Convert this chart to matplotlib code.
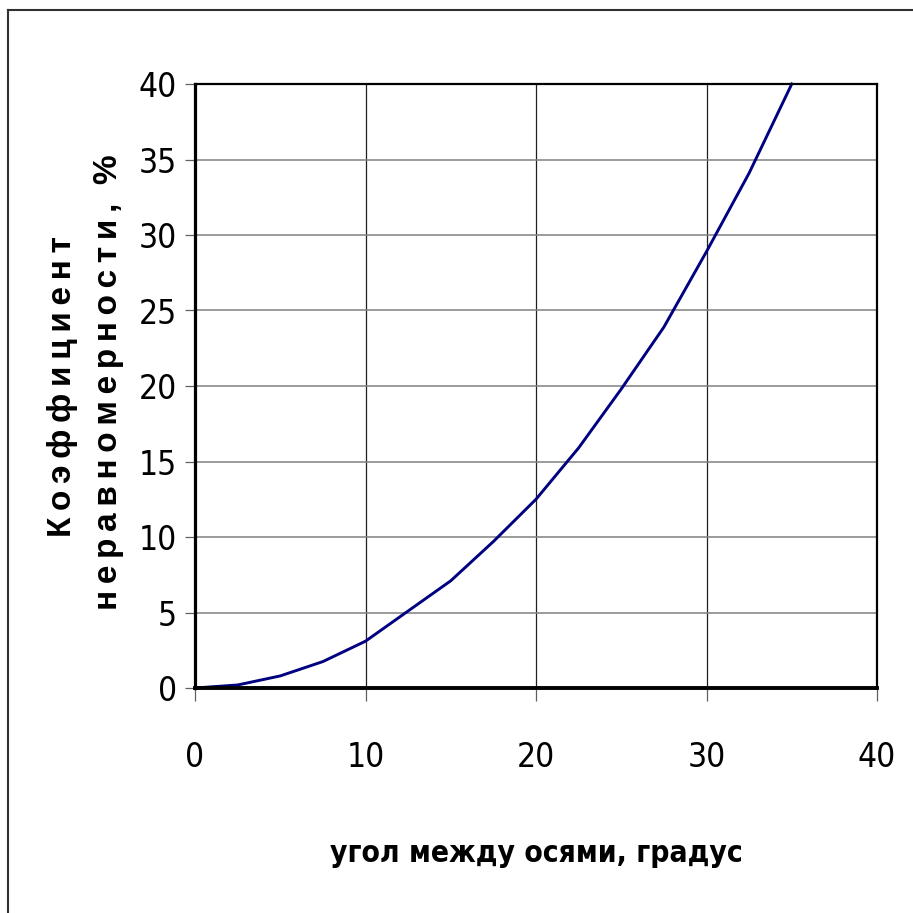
import matplotlib
matplotlib.use('Agg')
import matplotlib.pyplot as plt
from matplotlib.lines import Line2D

# angle between axes, degrees and non-uniformity coefficient, %
angle = [0, 2.5, 5, 7.5, 10, 12.5, 15, 17.5, 20, 22.5, 25, 27.5, 30, 32.5, 35]
coef = [0, 0.2, 0.8, 1.75, 3.1, 5.1, 7.1, 9.7, 12.5, 15.9, 19.8, 23.9, 28.9, 34.1, 40.0]

xticks = [0, 10, 20, 30, 40]
yticks = [0, 5, 10, 15, 20, 25, 30, 35, 40]

narrow = ['DejaVu Sans']
wide = ['Liberation Sans', 'DejaVu Sans']

W = 913
fig = plt.figure(figsize=(W/100, W/100), dpi=100)
ax = fig.add_axes([195/W, 1-688/W, (877-195)/W, (688-84)/W])

ax.plot(angle, coef, color='#000080', lw=2.1, solid_joinstyle='round', clip_on=False)

ax.set_xlim(0, 40)
ax.set_ylim(0, 40)
ax.set_xticks(xticks)
ax.set_yticks(yticks)
ax.xaxis.grid(True, color='#202020', lw=0.9)
ax.yaxis.grid(True, color='#808080', lw=1.1)
ax.set_axisbelow(True)

ax.spines['left'].set_linewidth(2.3)
ax.spines['bottom'].set_linewidth(2.8)
ax.spines['top'].set_linewidth(1.6)
ax.spines['right'].set_linewidth(1.6)

ax.tick_params(axis='y', direction='out', length=7, width=0.9, color='#606060', pad=6)
ax.tick_params(axis='x', direction='out', length=9, width=0.9, color='#606060', pad=29)
for lab in ax.get_xticklabels() + ax.get_yticklabels():
    lab.set_family(narrow)
    lab.set_stretch('condensed')
    lab.set_fontsize(24)

ax.set_xlabel('угол между осями, градус', family=narrow, fontstretch='condensed',
              fontweight='bold', fontsize=21.5, labelpad=47)

sp = '\u2009'
fig.text(62/W, 1-387/W, sp.join('Коэффициент'), rotation=90, family=wide, fontweight='bold',
         fontsize=24, ha='center', va='center')
fig.text(108/W, 1-382/W, sp.join('неравномерности,') + '  %', rotation=90, family=wide,
         fontweight='bold', fontsize=24, ha='center', va='center')

# outer frame (only left and top edges visible)
fig.add_artist(Line2D([8/W, 8/W], [0, 1-10/W], color='#303030', lw=1.5))
fig.add_artist(Line2D([8/W, 1], [1-10/W, 1-10/W], color='#303030', lw=1.5))

fig.savefig('out.png', dpi=100)
